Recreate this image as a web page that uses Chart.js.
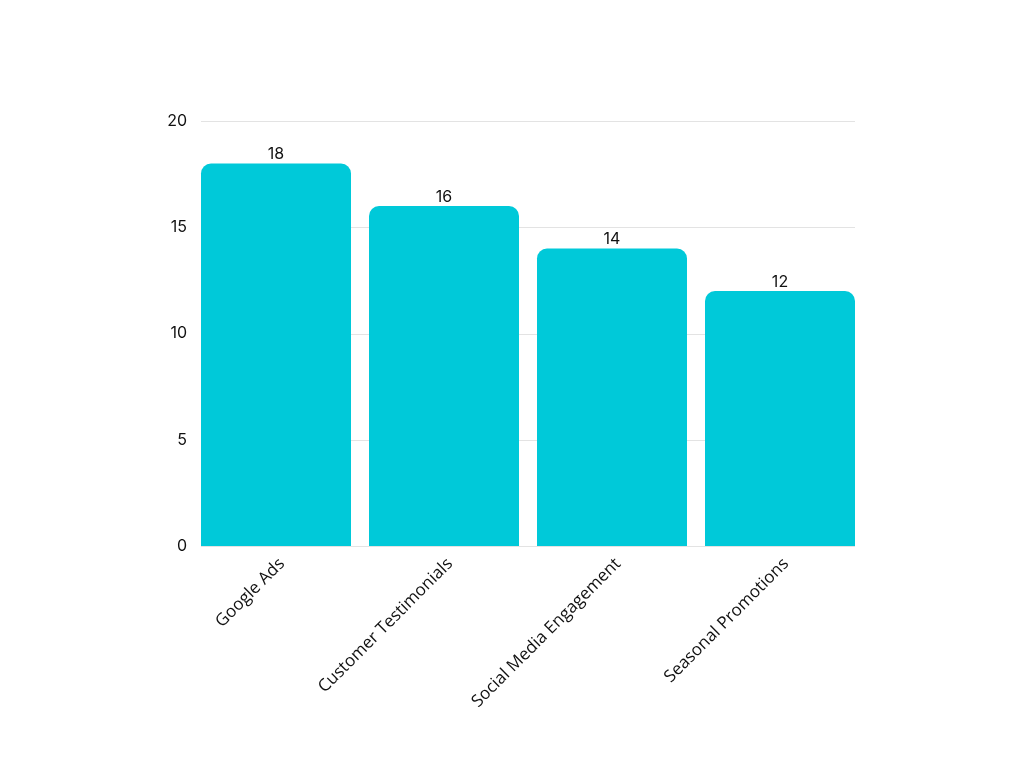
<!DOCTYPE html>
<html lang="en">

<head>
    <meta charset="UTF-8">
    <title>Chart</title>
    <style>
        html, body { margin: 0; padding: 0; background: #fff; }
        #wrap { width: 1024px; height: 768px; }
    </style>
</head>

<body>
    <div id="wrap"><canvas id="chart"></canvas></div>

    <script src="https://cdn.jsdelivr.net/npm/chart.js"></script>

    <script>
        const categories = ['Google Ads', 'Customer Testimonials', 'Social Media Engagement', 'Seasonal Promotions'];
        const values = [18, 16, 14, 12];
        const yTicks = [0, 5, 10, 15, 20];

        // value labels above each bar
        const barLabels = {
            id: 'barLabels',
            afterDatasetsDraw(chart) {
                const ctx = chart.ctx;
                const meta = chart.getDatasetMeta(0);
                ctx.save();
                ctx.font = '16px Inter';
                ctx.fillStyle = '#111';
                ctx.textAlign = 'center';
                ctx.textBaseline = 'bottom';
                meta.data.forEach((bar, i) => {
                    ctx.fillText(values[i], bar.x, bar.y - 1);
                });
                ctx.restore();
            }
        };

        // horizontal grid lines only as wide as the bars span
        const gridLines = {
            id: 'gridLines',
            beforeDatasetsDraw(chart) {
                const ctx = chart.ctx;
                const meta = chart.getDatasetMeta(0);
                const first = meta.data[0], last = meta.data[meta.data.length - 1];
                const x0 = first.x - first.width / 2;
                const x1 = last.x + last.width / 2;
                const y = chart.scales.y;
                ctx.save();
                ctx.strokeStyle = '#e3e3e3';
                ctx.lineWidth = 1;
                yTicks.forEach(t => {
                    const py = Math.round(y.getPixelForValue(t)) + 0.5;
                    ctx.beginPath();
                    ctx.moveTo(x0, py);
                    ctx.lineTo(x1, py);
                    ctx.stroke();
                });
                ctx.restore();
            }
        };

        new Chart(document.getElementById('chart'), {
            type: 'bar',
            data: {
                labels: categories,
                datasets: [{
                    data: values,
                    backgroundColor: '#00c9d9',
                    borderRadius: 10,
                    categoryPercentage: 1,
                    barPercentage: 150 / 168
                }]
            },
            options: {
                responsive: true,
                maintainAspectRatio: false,
                animation: false,
                layout: { padding: { top: 121, right: 160, left: 0, bottom: 0 } },
                plugins: {
                    legend: { display: false },
                    tooltip: { enabled: false }
                },
                scales: {
                    x: {
                        grid: { display: false },
                        border: { display: false },
                        ticks: {
                            maxRotation: 45,
                            minRotation: 45,
                            color: '#111',
                            padding: 0,
                            labelOffset: 6,
                            font: { family: 'Open Sans', size: 17 }
                        },
                        afterFit: s => { s.height = 222; }
                    },
                    y: {
                        min: 0,
                        max: 20,
                        grid: { display: false, drawTicks: false },
                        border: { display: false },
                        afterBuildTicks: s => { s.ticks = yTicks.map(v => ({ value: v })); },
                        ticks: {
                            padding: 5,
                            color: '#111',
                            font: { family: 'Inter', size: 16 }
                        },
                        afterFit: s => { s.width = 192; }
                    }
                }
            },
            plugins: [gridLines, barLabels]
        });
    </script>
</body>

</html>
